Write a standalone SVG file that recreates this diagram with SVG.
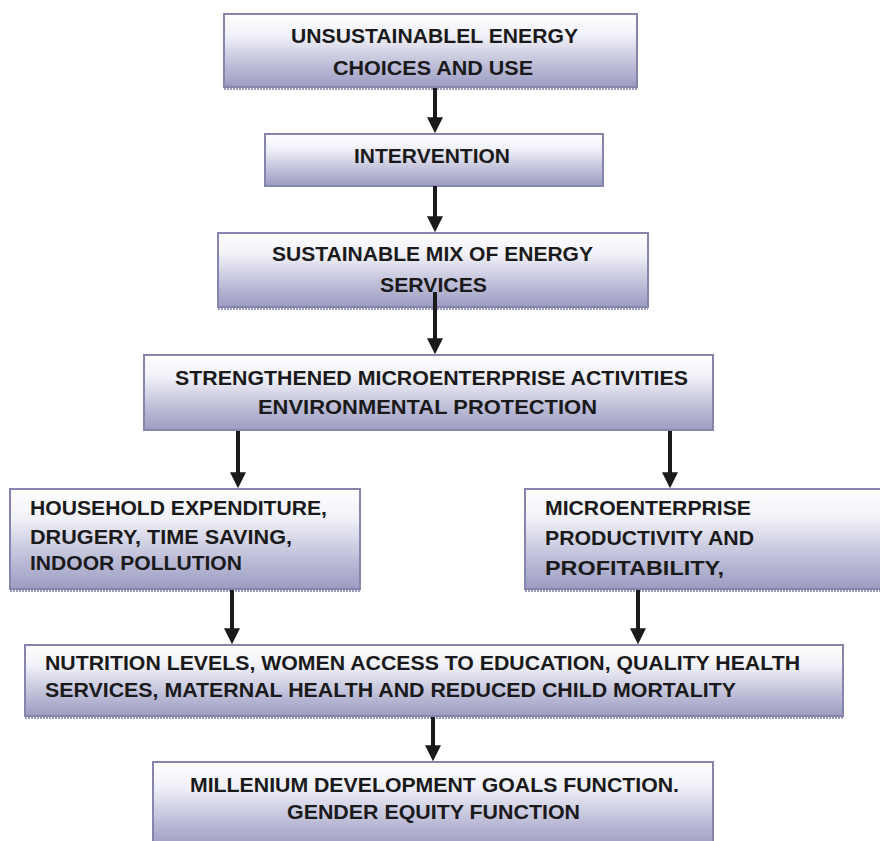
<svg xmlns="http://www.w3.org/2000/svg" width="880" height="841" viewBox="0 0 880 841">
<defs>
<linearGradient id="g" x1="0" y1="0" x2="0" y2="1">
<stop offset="0" stop-color="#ffffff"/>
<stop offset="0.3" stop-color="#f0f0f8"/>
<stop offset="0.7" stop-color="#bdbdd8"/>
<stop offset="1" stop-color="#9c9cc2"/>
</linearGradient>
<marker id="ah" markerWidth="4" markerHeight="4" refX="2.2" refY="2" orient="auto" markerUnits="strokeWidth">
<path d="M0,0 L4,2 L0,4 Z" fill="#1a1a1a"/>
</marker>
</defs>
<style>
.box{fill:url(#g);stroke:#8585ad;stroke-width:2}
.sh{stroke:#9a9ab8;stroke-width:2;stroke-dasharray:2 1;fill:none}
.t{font-family:"Liberation Sans",Arial,sans-serif;font-weight:bold;font-size:20px;fill:#1a1a1a}
.con line{stroke:#1a1a1a;stroke-width:4;marker-end:url(#ah)}
</style>
<rect width="880" height="841" fill="#ffffff"/>
<g id="n1">
<rect class="box" x="224" y="14" width="413" height="73"/>
<line class="sh" x1="224" y1="89" x2="637" y2="89"/>
<text class="t" x="291" y="43" textLength="287" lengthAdjust="spacingAndGlyphs">UNSUSTAINABLEL ENERGY</text>
<text class="t" x="333" y="75" textLength="200" lengthAdjust="spacingAndGlyphs">CHOICES AND USE</text>
</g>
<g id="n2">
<rect class="box" x="265" y="134" width="338" height="52"/>
<text class="t" x="354" y="163" textLength="156" lengthAdjust="spacingAndGlyphs">INTERVENTION</text>
</g>
<g id="n3">
<rect class="box" x="218" y="233" width="430" height="74"/>
<line class="sh" x1="218" y1="309" x2="648" y2="309"/>
<text class="t" x="272" y="261" textLength="321" lengthAdjust="spacingAndGlyphs">SUSTAINABLE MIX OF ENERGY</text>
<text class="t" x="380" y="292" textLength="107" lengthAdjust="spacingAndGlyphs">SERVICES</text>
</g>
<g id="n4">
<rect class="box" x="144" y="355" width="569" height="75"/>
<text class="t" x="175" y="385" textLength="513" lengthAdjust="spacingAndGlyphs">STRENGTHENED MICROENTERPRISE ACTIVITIES</text>
<text class="t" x="258" y="414" textLength="339" lengthAdjust="spacingAndGlyphs">ENVIRONMENTAL PROTECTION</text>
</g>
<g id="n5">
<rect class="box" x="10" y="489" width="350" height="100"/>
<line class="sh" x1="10" y1="591" x2="360" y2="591"/>
<text class="t" x="30" y="515" textLength="297" lengthAdjust="spacingAndGlyphs">HOUSEHOLD EXPENDITURE,</text>
<text class="t" x="30" y="544" textLength="262" lengthAdjust="spacingAndGlyphs">DRUGERY, TIME SAVING,</text>
<text class="t" x="30" y="570" textLength="212" lengthAdjust="spacingAndGlyphs">INDOOR POLLUTION</text>
</g>
<g id="n6">
<rect class="box" x="525" y="489" width="360" height="100"/>
<line class="sh" x1="525" y1="591" x2="880" y2="591"/>
<text class="t" x="545" y="515" textLength="206" lengthAdjust="spacingAndGlyphs">MICROENTERPRISE</text>
<text class="t" x="545" y="545" textLength="209" lengthAdjust="spacingAndGlyphs">PRODUCTIVITY AND</text>
<text class="t" x="545" y="575" textLength="179" lengthAdjust="spacingAndGlyphs">PROFITABILITY,</text>
</g>
<g id="n7">
<rect class="box" x="25" y="645" width="818" height="71"/>
<line class="sh" x1="25" y1="718" x2="843" y2="718"/>
<text class="t" x="45" y="670" textLength="755" lengthAdjust="spacingAndGlyphs">NUTRITION LEVELS, WOMEN ACCESS TO EDUCATION, QUALITY HEALTH</text>
<text class="t" x="45" y="697" textLength="691" lengthAdjust="spacingAndGlyphs">SERVICES, MATERNAL HEALTH AND REDUCED CHILD MORTALITY</text>
</g>
<g id="n8">
<rect class="box" x="153" y="762" width="560" height="85"/>
<text class="t" x="190" y="792" textLength="489" lengthAdjust="spacingAndGlyphs">MILLENIUM DEVELOPMENT GOALS FUNCTION.</text>
<text class="t" x="287" y="819" textLength="293" lengthAdjust="spacingAndGlyphs">GENDER EQUITY FUNCTION</text>
</g>
<g id="connectors" class="con">
<line x1="435" y1="88" x2="435" y2="126"/>
<line x1="435" y1="186" x2="435" y2="225"/>
<line x1="435" y1="292" x2="435" y2="347"/>
<line x1="238" y1="431" x2="238" y2="481"/>
<line x1="670" y1="431" x2="670" y2="481"/>
<line x1="232" y1="590" x2="232" y2="637"/>
<line x1="638" y1="590" x2="638" y2="637"/>
<line x1="433" y1="717" x2="433" y2="754"/>
</g>
</svg>
